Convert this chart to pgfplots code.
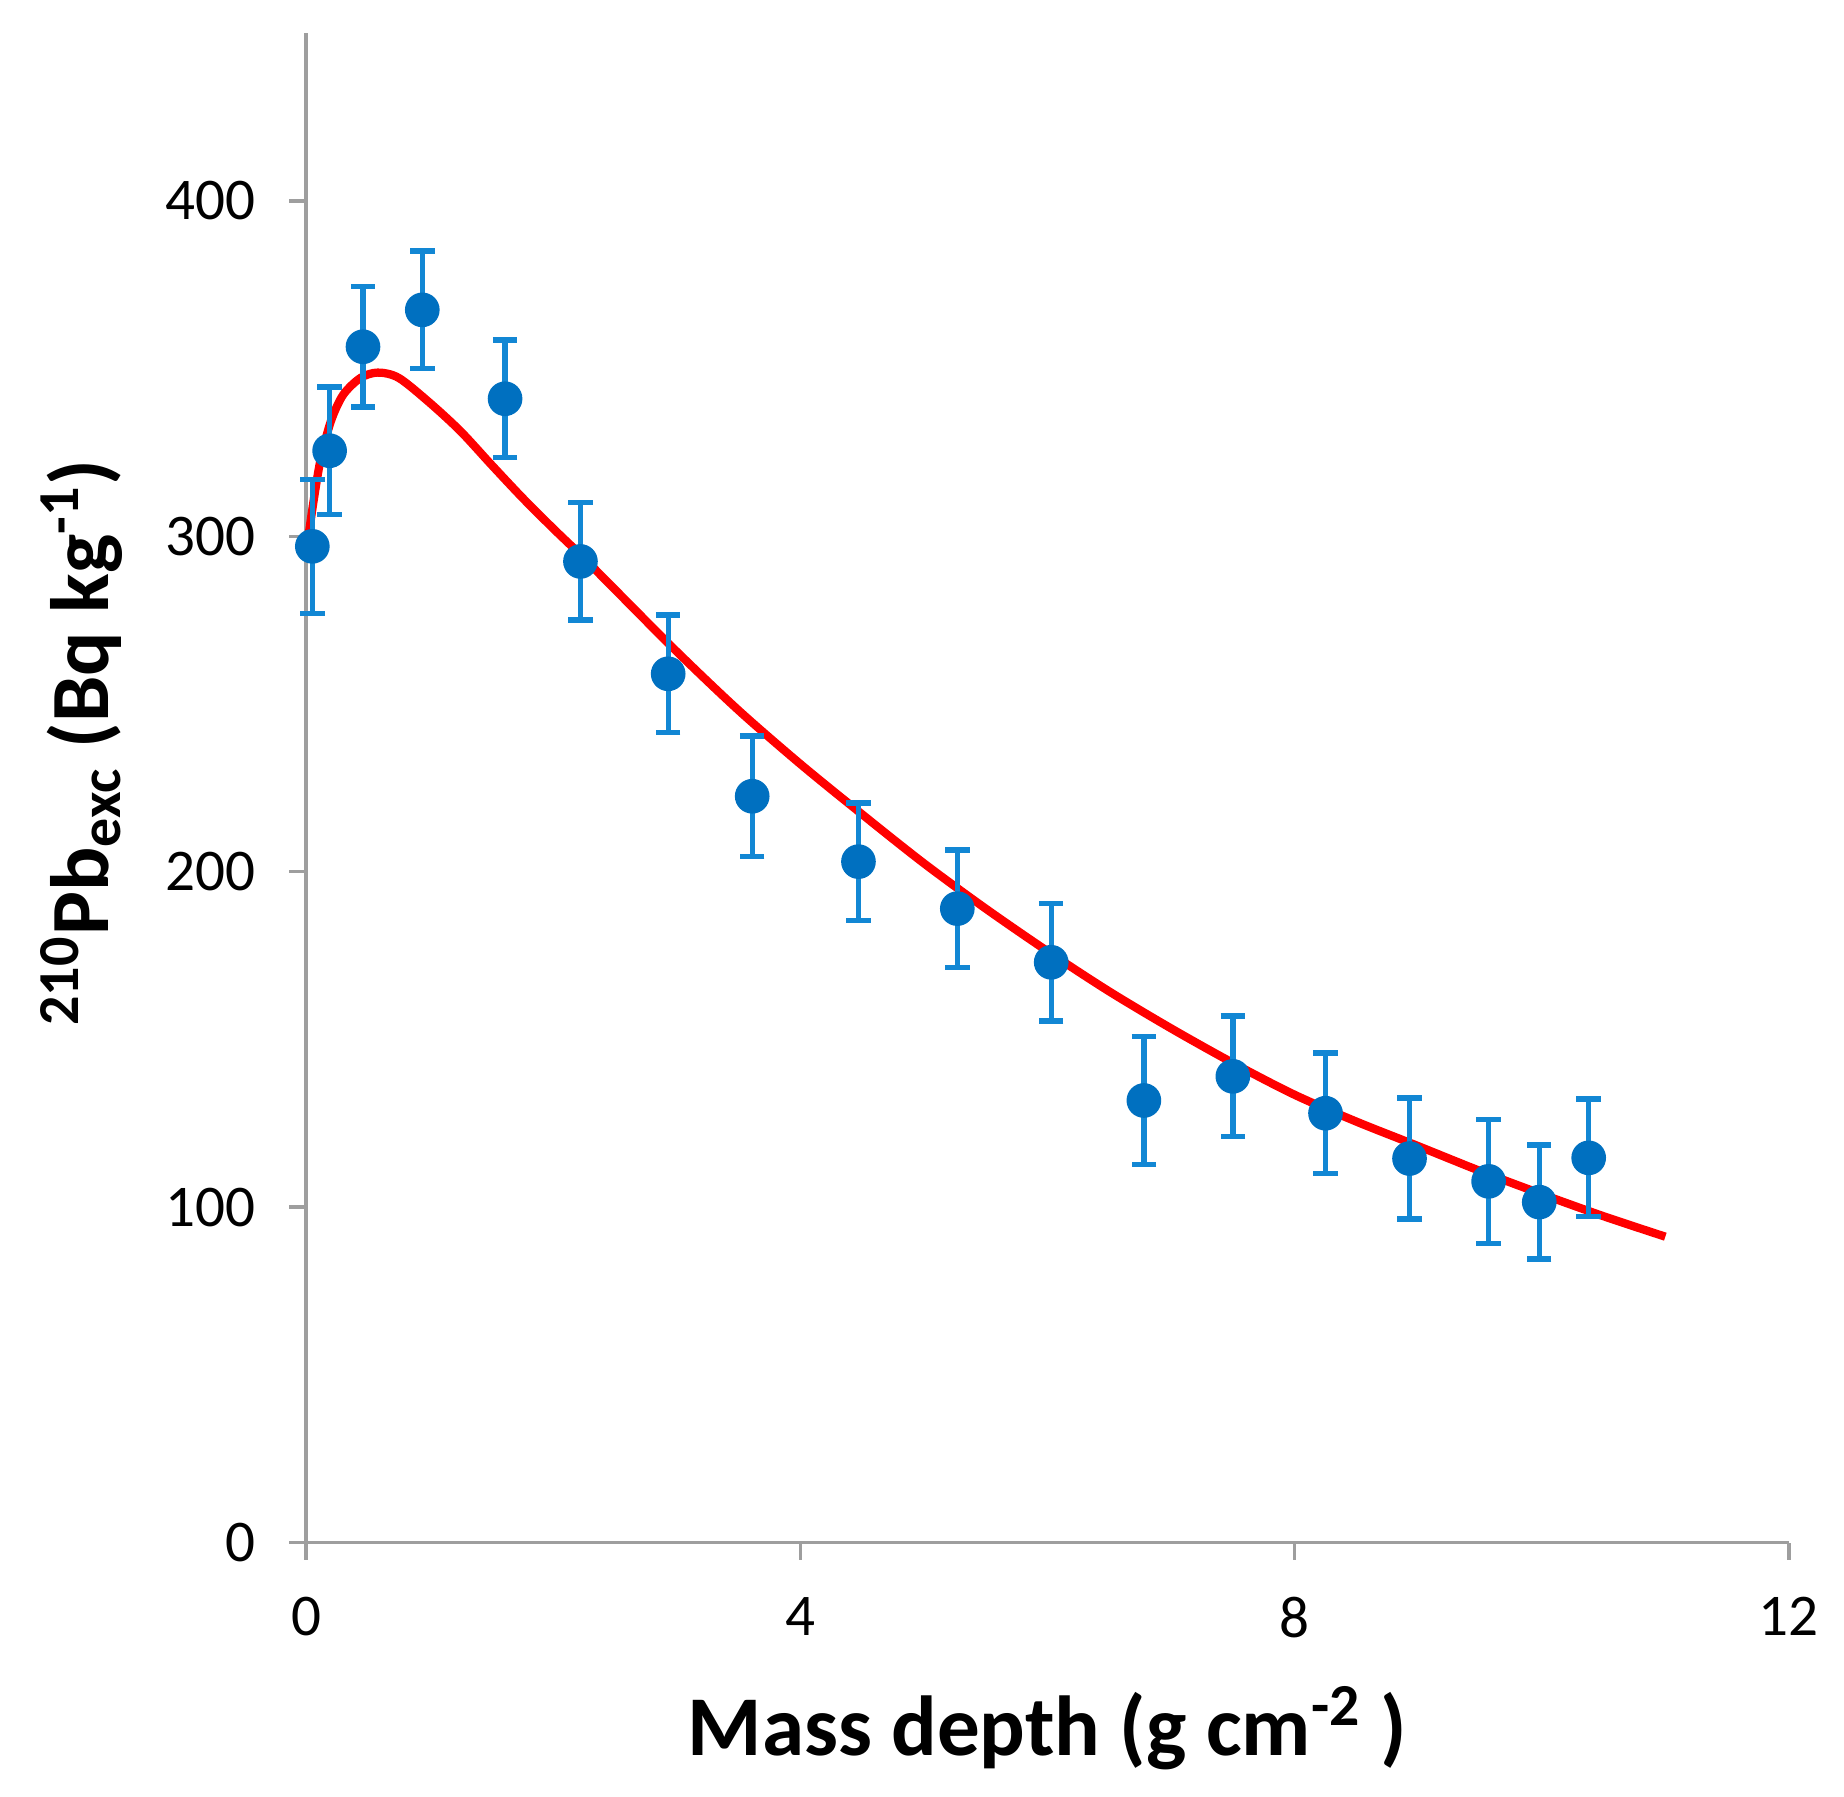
\documentclass[border=0pt]{standalone}
\usepackage{fontspec}
\setmainfont{Carlito}
\usepackage{pgfplots}
\usepackage{pgfplotstable}
\pgfplotsset{compat=1.18}
\definecolor{axgray}{HTML}{9E9E9E}
\definecolor{ptblue}{HTML}{0070C0}
\definecolor{errblue}{HTML}{1287D4}
\definecolor{fitred}{HTML}{FF0000}

\pgfplotstableread{
x      y      ep    em
0.05   297    20    20
0.19   325.5  19    19
0.46   356.5  18    18
0.94   367.5  17.5  17.5
1.61   341    17.5  17.5
2.22   292.5  17.5  17.5
2.93   259    17.5  17.5
3.61   222.5  18    18
4.47   203    17.5  17.5
5.27   189    17.5  17.5
6.03   173    17.5  17.5
6.78   131.8  19    19
7.50   139    18    18
8.25   128    18    18
8.93   114.5  18    18
9.57   107.7  18.5  18.5
9.98   101.5  17    17
10.38  114.7  17.5  17.5
}\datatable

\begin{document}
\begin{tikzpicture}
\useasboundingbox (0,0) rectangle (468pt,456pt);
\begin{axis}[
  at={(77.7pt,64.5pt)}, anchor=south west,
  scale only axis, width=376.3pt, height=383.1pt,
  xmin=0, xmax=12, ymin=0, ymax=450,
  clip=false,
  axis lines*=left,
  axis line style={axgray, line width=0.9pt},
  xtick={0,4,8,12}, ytick={0,100,200,300,400},
  minor tick num=0,
  tick style={axgray, line width=0.9pt},
  tick align=outside, major tick length=4.3pt,
  ticklabel style={font=\fontsize{15}{18}\selectfont, text=black},
  /pgf/number format/assume math mode=true,
  xticklabel style={yshift=-6pt},
  yticklabel style={xshift=-5pt},
  xlabel={Mass depth (g cm\textsuperscript{-2} )},
  ylabel={\textsuperscript{210}Pb\textsubscript{exc} (Bq kg\textsuperscript{-1})},
  xlabel style={at={(axis description cs:0.5,-0.123)}, anchor=center, font=\bfseries\fontsize{21.6}{25}\selectfont},
  ylabel style={at={(axis description cs:-0.1515,0.53)}, anchor=center, font=\bfseries\fontsize{21}{25}\selectfont},
]
\addplot[fitred, line width=2.1pt, smooth, no marks] coordinates {
(0,298) (0.02,300.6) (0.06,310.5) (0.115,322.5) (0.2,334.3) (0.3,342.2) (0.44,347.2)
(0.58,348.8) (0.75,347.2) (1.0,339.8) (1.25,331.3) (1.5,321.3) (1.75,311.5)
(2.0,302.3) (2.22,294.5) (2.5,284.1) (3.0,265.6) (3.5,248.1) (4.0,232.1)
(4.5,217.1) (5.0,202.5) (5.5,189) (6.0,176.3) (6.5,164.3) (7.0,153.3)
(7.5,143) (8.0,133.5) (8.5,125.5) (9.0,118.2) (9.5,110.8) (10.0,103.9)
(10.5,97.3) (11.0,91.2)
};
\addplot[only marks, mark=*, mark size=4.2pt, mark options={fill=ptblue, draw=ptblue},
  error bars/.cd, y dir=both, y explicit,
  error bar style={errblue, line width=1.35pt},
  error mark options={rotate=90, errblue, mark size=3.1pt, line width=1.35pt}]
  table[x=x, y=y, y error plus=ep, y error minus=em] {\datatable};
\end{axis}
\end{tikzpicture}
\end{document}
